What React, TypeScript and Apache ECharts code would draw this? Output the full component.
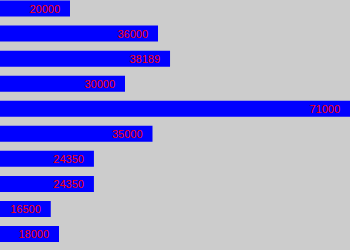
import React, { useEffect, useRef } from "react";
import * as echarts from "echarts";

const categories = ["1", "2", "3", "4", "5", "6", "7", "8", "9", "10"];
const values = [20000, 36000, 38189, 30000, 71000, 35000, 24350, 24350, 16500, 18000];
// visible value range across the 350px width (bars are drawn from a baseline left of the view)
const axisMin = 7272.73;
const axisMax = 70909.09;

export default function App() {
  const ref = useRef<HTMLDivElement>(null);
  useEffect(() => {
    if (!ref.current) return;
    const chart = echarts.init(ref.current, undefined, { renderer: "svg" });
    chart.setOption({
      animation: false,
      backgroundColor: "#cccccc",
      grid: { left: 0, right: 0, top: 0, bottom: 4.5 },
      xAxis: {
        type: "value",
        min: axisMin,
        max: axisMax,
        show: false,
        splitLine: { show: false },
      },
      yAxis: {
        type: "category",
        data: categories,
        inverse: true,
        show: false,
      },
      series: [
        {
          type: "bar",
          data: values,
          barWidth: 16,
          itemStyle: { color: "#0000ff" },
          label: {
            show: true,
            position: "insideRight",
            distance: 10,
            color: "#ff0000",
            fontFamily: "Liberation Sans",
            fontSize: 11,
          },
        },
      ],
    });
    return () => chart.dispose();
  }, []);
  return (
    <div style={{ position: "absolute", left: 0, top: 0, width: 350, height: 250, overflow: "hidden", background: "#cccccc" }}>
      <div
        ref={ref}
        style={{ position: "absolute", left: 0, top: -4.5, width: 350, height: 254.5 }}
      />
    </div>
  );
}
